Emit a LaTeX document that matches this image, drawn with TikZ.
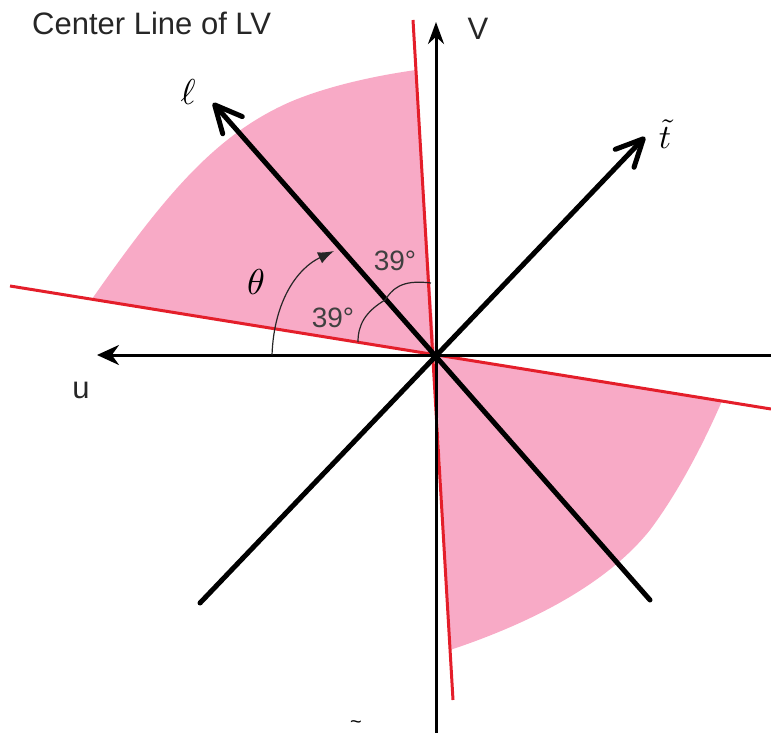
\documentclass[tikz,border=0pt]{standalone}
\usepackage{fontspec}
\setmainfont{Liberation Sans}
\usetikzlibrary{arrows.meta}
\definecolor{pinkfill}{RGB}{248,170,198}
\definecolor{redline}{RGB}{228,30,42}
\tikzset{
  axis/.style={line width=3pt, black},
  thickaxis/.style={line width=5pt, black, line cap=round},
  redl/.style={line width=3pt, redline},
  region/.style={fill=pinkfill, draw=none},
  lbl/.style={inner sep=0pt, font=\fontsize{31}{31}\selectfont, text=black!85},
  mlbl/.style={inner sep=0pt},
  deg/.style={inner sep=0pt, font=\fontsize{28}{28}\selectfont, text=black!75},
  thin/.style={line width=1.2pt, black!85},
  barb/.style={-{Straight Barb[length=27pt,width=26pt,round]}}
}
\begin{document}
\begin{tikzpicture}[x=1pt,y=-1pt]
\useasboundingbox (0,0) rectangle (771,733);
% coordinates
\coordinate (O) at (435,354);
\coordinate (r1a) at (413,20);
\coordinate (r1b) at (453,700);
\coordinate (r2a) at (10,286);
\coordinate (r2b) at (771,409);
\coordinate (uR) at (771,355);
\coordinate (uL) at (97,355);
\coordinate (vB) at (436,733);
\coordinate (vT) at (436,22);
\coordinate (lB) at (650,600);
\coordinate (lT) at (213,103);
\coordinate (tB) at (200,603);
\coordinate (tT) at (645,137);
% pink regions
\path[region] (416,70) -- (O) -- (92,299)
  .. controls (165,195) and (215,135) .. (290,102)
  .. controls (330,85) and (380,75) .. (416,70) -- cycle;
\path[region] (722,401) -- (O) -- (450,650)
  .. controls (540,620) and (610,580) .. (650,530)
  .. controls (680,490) and (705,440) .. (722,401) -- cycle;
% red lines
\draw[redl] (r1a) -- (r1b);
\draw[redl] (r2a) -- (r2b);
% axes
\draw[axis, -{Stealth[length=22pt,width=20pt]}] (uR) -- (uL);
\draw[axis, -{Stealth[length=22pt,width=16pt]}] (vB) -- (vT);
\draw[thickaxis, barb] (lB) -- (lT);
\draw[thickaxis, barb] (tB) -- (tT);
% theta arc
\coordinate (th0) at (272,355);
\coordinate (th1) at (334,251);
\draw[thin, -{Latex[length=16pt,width=12pt]}] (th0) .. controls (274,300) and (298,268) .. (th1);
% 39 degree arc
\coordinate (a0) at (431,283);
\coordinate (a1) at (358,342);
\draw[thin] (a0) .. controls (400,279) and (392,290) .. (385,300)
  .. controls (365,312) and (358,325) .. (a1);
% labels
\node[lbl, anchor=west] (title) at (32,23) {Center Line of LV};
\node[lbl] (vlab) at (478,29) {V};
\node[lbl] (ulab) at (81,390) {u};
\node[mlbl] (ell) at (188,92) {\scalebox{3.6}{$\ell$}};
\node[mlbl] (ttil) at (665,134) {\scalebox{3.4}{$\tilde{t}$}};
\node[mlbl] (theta) at (256,282) {\scalebox{3.6}{$\theta$}};
\node[deg] (d1) at (395,261) {39°};
\node[deg] (d2) at (333,318) {39°};
\node[mlbl, anchor=south] (cut) at (356,729) {\scalebox{2}{\textasciitilde}};
\end{tikzpicture}
\end{document}
